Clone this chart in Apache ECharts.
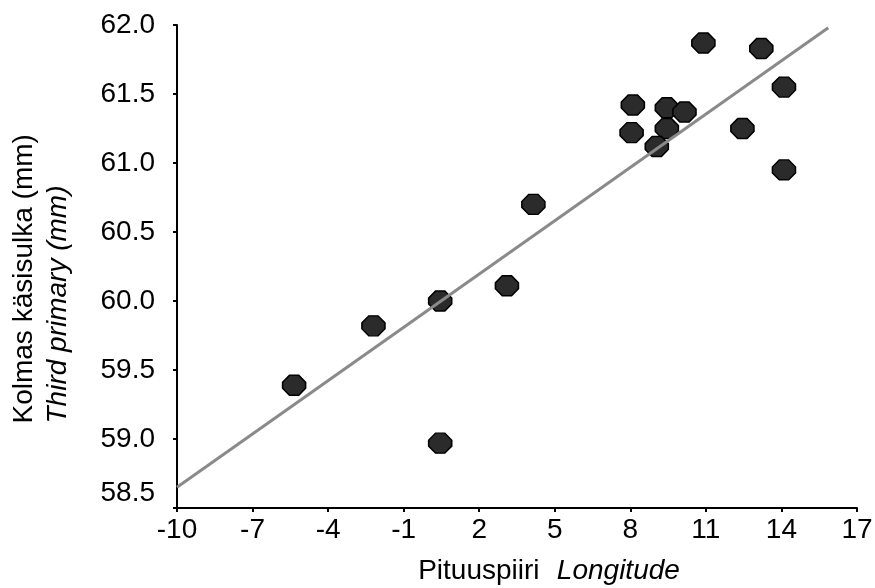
<!DOCTYPE html>
<html>
<head>
<meta charset="utf-8">
<script src="https://cdn.jsdelivr.net/npm/echarts@6/dist/echarts.min.js"></script>
<style>
  html, body { margin: 0; padding: 0; background: #fff; }
  #chart { width: 875px; height: 588px; }
</style>
</head>
<body>
<div id="chart"></div>
<script>
// longitude (x) and third primary length in mm (y)
const longitude = [10.9, 13.2, 14.1, 8.1, 9.45, 10.15, 8.05, 9.45, 12.45, 9.05, 14.1, 4.15, 3.1, 0.45, -2.2, -5.35, 0.45];
const thirdPrimary = [61.87, 61.83, 61.55, 61.42, 61.4, 61.37, 61.22, 61.25, 61.25, 61.12, 60.95, 60.7, 60.11, 60.0, 59.82, 59.39, 58.97];
// regression line end points
const fitX = [-10, 15.86];
const fitY = [58.65, 61.98];

const font = "'Liberation Sans', Arial, sans-serif";
const octagon = "path://M3,0 L7,0 L10,3.5 L10,6.5 L7,10 L3,10 L0,6.5 L0,3.5 Z";

let chartDom = document.getElementById("chart");
let myChart = echarts.init(chartDom);

const option = {
  backgroundColor: "#fff",
  animation: false,
  grid: {
    left: 177,
    right: 18,
    top: 25,
    bottom: 80,
    containLabel: false,
    outerBoundsMode: "none",
  },
  xAxis: {
    type: "value",
    min: -10,
    max: 17,
    interval: 3,
    splitLine: { show: false },
    axisLine: { onZero: false, lineStyle: { color: "#000", width: 2 } },
    axisTick: { length: 4, lineStyle: { color: "#000", width: 2 } },
    axisLabel: { color: "#000", fontSize: 28, fontFamily: font, margin: 8 },
    name: "{a|Pituuspiiri} {b|Longitude}",
    nameLocation: "middle",
    nameGap: 49,
    nameTextStyle: {
      padding: [0, 0, 0, 64],
      rich: {
        a: { fontSize: 28, fontFamily: font, color: "#000" },
        b: { fontSize: 28, fontFamily: font, color: "#000", fontStyle: "italic", padding: [0, 0, 0, 14] },
      },
    },
  },
  yAxis: {
    type: "value",
    min: 58.5,
    max: 62,
    interval: 0.5,
    splitLine: { show: false },
    axisLine: { onZero: false, lineStyle: { color: "#000", width: 2 } },
    axisTick: { length: 4, lineStyle: { color: "#000", width: 2 } },
    axisLabel: {
      color: "#000",
      fontSize: 28,
      fontFamily: font,
      margin: 22,
      formatter: (v) => (v === 58.5 ? "{low|" + v.toFixed(1) + "}" : v.toFixed(1)),
      rich: {
        low: { fontSize: 28, fontFamily: font, color: "#000", padding: [0, 0, 30, 0] },
      },
    },
    name: "{a|Kolmas käsisulka (mm)}\n{b|Third primary (mm)}",
    nameLocation: "middle",
    nameRotate: 90,
    nameGap: 102,
    nameTextStyle: {
      padding: [0, 14, 0, 0],
      rich: {
        a: { fontSize: 28, fontFamily: font, color: "#000", width: 300, align: "left", lineHeight: 34 },
        b: { fontSize: 28, fontFamily: font, color: "#000", width: 300, align: "left", lineHeight: 34, fontStyle: "italic" },
      },
    },
  },
  series: [
    {
      name: "points",
      type: "scatter",
      data: longitude.map((x, i) => [x, thirdPrimary[i]]),
      symbol: octagon,
      symbolSize: [23, 20],
      itemStyle: { color: "#2b2b2b", borderColor: "#000", borderWidth: 1.5, opacity: 1 },
    },
    {
      name: "fit",
      type: "line",
      data: fitX.map((x, i) => [x, fitY[i]]),
      showSymbol: false,
      symbol: "none",
      lineStyle: { color: "#8a8a8a", width: 3 },
    },
  ],
};

myChart.setOption(option);
</script>
</body>
</html>
